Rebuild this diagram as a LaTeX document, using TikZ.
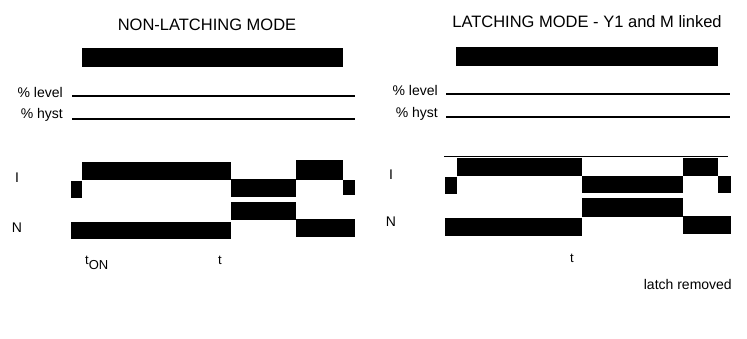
\documentclass[tikz,border=0pt]{standalone}
\usepackage{fontspec}
\setmainfont{Liberation Sans}
\tikzset{
  blk/.style={fill=black},
  thresh/.style={line width=1.4pt},
  topline/.style={line width=0.6pt},
  heading/.style={font=\fontsize{16.5}{18}\selectfont,inner sep=0pt},
  lbl/.style={font=\fontsize{14}{16}\selectfont,inner sep=0pt},
  tlbl/.style={font=\fontsize{13}{15}\selectfont,inner sep=0pt}
}
\begin{document}
\begin{tikzpicture}[x=1pt,y=-1pt]
  \useasboundingbox (0,0) rectangle (747,338);
  \node[heading] (headnl) at (207,25) {NON-LATCHING MODE};
  \fill[blk] (82,48) rectangle (343,67);
  \node[lbl,anchor=base east] (levelnl) at (63,97) {\% level};
  \node[lbl,anchor=base east] (hystnl) at (63,118) {\% hyst};
  \draw[thresh] (72,96) -- (355,96);
  \draw[thresh] (72,119) -- (355,119);
  \node[lbl] (inl) at (17,178) {I};
  \node[lbl] (nnl) at (17,228) {N};
  \fill[blk] (71,181) rectangle (82,198);
  \fill[blk] (82,162) rectangle (231,180);
  \fill[blk] (231,179) rectangle (296,197);
  \fill[blk] (296,160) rectangle (343,180);
  \fill[blk] (343,180) rectangle (355,195);
  \fill[blk] (71,222) rectangle (231,239);
  \fill[blk] (231,202) rectangle (296,220);
  \fill[blk] (296,219) rectangle (355,237);
  \node[tlbl,anchor=base west] (tonnl) at (85,264) {t\raisebox{-5pt}{\fontsize{13}{14}\selectfont ON}};
  \node[tlbl,anchor=base] (tnl) at (220,264) {t};

  \node[heading] (headl) at (587,22) {LATCHING MODE - Y1 and M linked};
  \fill[blk] (456,47) rectangle (718,66);
  \node[lbl,anchor=base east] (levell) at (438,95) {\% level};
  \node[lbl,anchor=base east] (hystl) at (438,117) {\% hyst};
  \draw[thresh] (446,94) -- (730,94);
  \draw[thresh] (446,117) -- (730,117);
  \node[lbl] (il) at (391,175) {I};
  \node[lbl] (nl) at (391,222) {N};
  \draw[topline] (444,156) -- (728,156);
  \fill[blk] (445,177) rectangle (457,194);
  \fill[blk] (457,158) rectangle (582,176);
  \fill[blk] (582,176) rectangle (683,193);
  \fill[blk] (683,158) rectangle (718,176);
  \fill[blk] (718,176) rectangle (731,193);
  \fill[blk] (445,218) rectangle (582,236);
  \fill[blk] (582,198) rectangle (683,217);
  \fill[blk] (683,216) rectangle (731,234);
  \node[tlbl,anchor=base] (tl) at (572,262) {t};
  \node[lbl,anchor=base east] (latchl) at (732,289) {latch removed};
\end{tikzpicture}
\end{document}
